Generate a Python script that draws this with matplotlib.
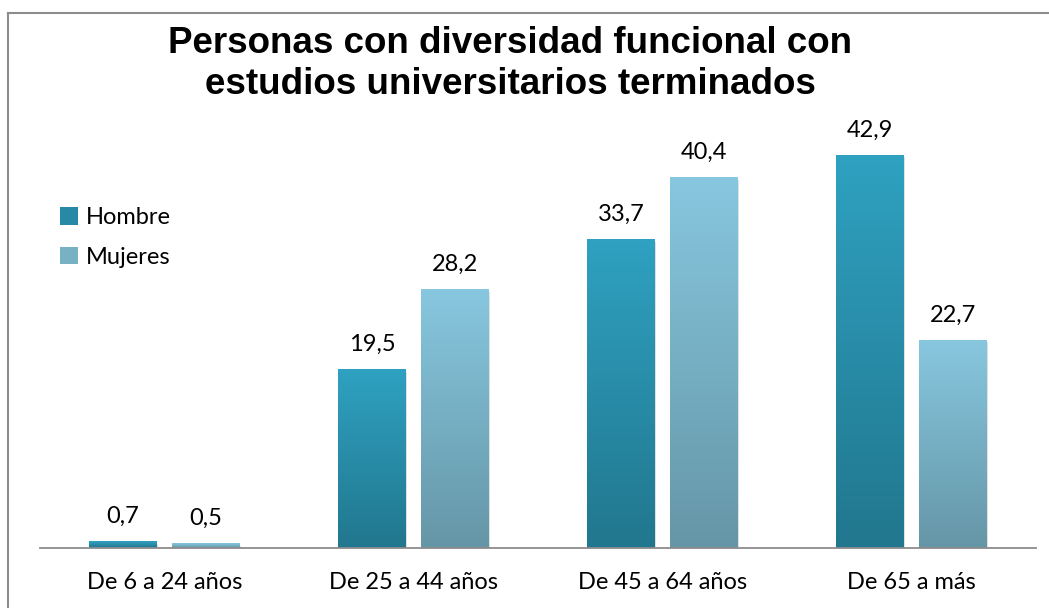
import numpy as np
import matplotlib
matplotlib.use("Agg")
import matplotlib.pyplot as plt
from matplotlib.colors import LinearSegmentedColormap
from matplotlib.patches import Patch
from matplotlib.lines import Line2D

categories = ["De 6 a 24 años", "De 25 a 44 años", "De 45 a 64 años", "De 65 a más"]
hombre = [0.7, 19.5, 33.7, 42.9]
mujeres = [0.5, 28.2, 40.4, 22.7]
series_names = ["Hombre", "Mujeres"]
title = "Personas con diversidad funcional con\nestudios universitarios terminados"

# top colour -> bottom colour for each series
grad_hombre = ("#2FA1C1", "#21778E")
grad_mujeres = ("#87C7DF", "#6596A7")

txt_font = ["Lato", "DejaVu Sans"]

fig = plt.figure(figsize=(10.49, 6.08), dpi=100)
ax = fig.add_axes([40/1049, 60/608, 996/1049, 458/608])

x = np.arange(len(categories))
w = 0.27
off = 0.167

def gradient_bars(vals, pos, colors):
    bars = ax.bar(pos, vals, w, color="none", edgecolor="none", zorder=2)
    cmap = LinearSegmentedColormap.from_list("g", [colors[1], colors[0]])
    grad = np.linspace(0, 1, 256).reshape(-1, 1)
    for b in bars:
        x0, h, bw = b.get_x(), b.get_height(), b.get_width()
        # soft shadow
        ax.add_patch(plt.Rectangle((x0 + 0.006, -0.25), bw, h, color="#000000",
                                   alpha=0.12, lw=0, zorder=1))
        ax.imshow(grad, cmap=cmap, origin="lower", aspect="auto",
                  extent=(x0, x0 + bw, 0, h), zorder=2)
    return bars

b1 = gradient_bars(hombre, x - off, grad_hombre)
b2 = gradient_bars(mujeres, x + off, grad_mujeres)

for bars, vals in ((b1, hombre), (b2, mujeres)):
    for b, v in zip(bars, vals):
        ax.text(b.get_x() + b.get_width()/2, v + 1.6, f"{v:.1f}".replace(".", ","),
                ha="center", va="bottom", fontsize=17, family=txt_font, color="#000000")

ax.set_xlim(-0.5, len(categories) - 0.5)
ax.set_ylim(0, 50)
ax.set_xticks(x)
ax.set_xticklabels(categories, fontsize=17, family=txt_font)
ax.tick_params(axis="x", length=0, pad=17)
ax.set_yticks([])
for s in ("top", "right", "left"):
    ax.spines[s].set_visible(False)
ax.spines["bottom"].set_color("#8C8C8C")
ax.spines["bottom"].set_linewidth(1.3)
ax.spines["bottom"].set_zorder(3)

fig.text(510/1049, 1 - 64/608, title, ha="center", va="center", fontsize=26.5,
         fontweight="bold", family="Liberation Sans", linespacing=1.2)

handles = [Patch(facecolor="#2889A6", edgecolor="none"),
           Patch(facecolor="#78B0C4", edgecolor="none")]
fig.legend(handles, series_names, loc="upper left", bbox_to_anchor=(39/1049, 1 - 186/608),
           frameon=False, prop={"family": txt_font, "size": 17},
           handlelength=0.75, handleheight=0.75, handletextpad=0.35, labelspacing=0.78)

# outer chart border (top and left are visible)
fig.add_artist(Line2D([8/1049, 8/1049], [0, 1 - 13/608], transform=fig.transFigure,
                      color="#8C8C8C", lw=1.5))
fig.add_artist(Line2D([8/1049, 1], [1 - 13/608, 1 - 13/608], transform=fig.transFigure,
                      color="#8C8C8C", lw=1.5))

fig.savefig("out.png", dpi=100)
